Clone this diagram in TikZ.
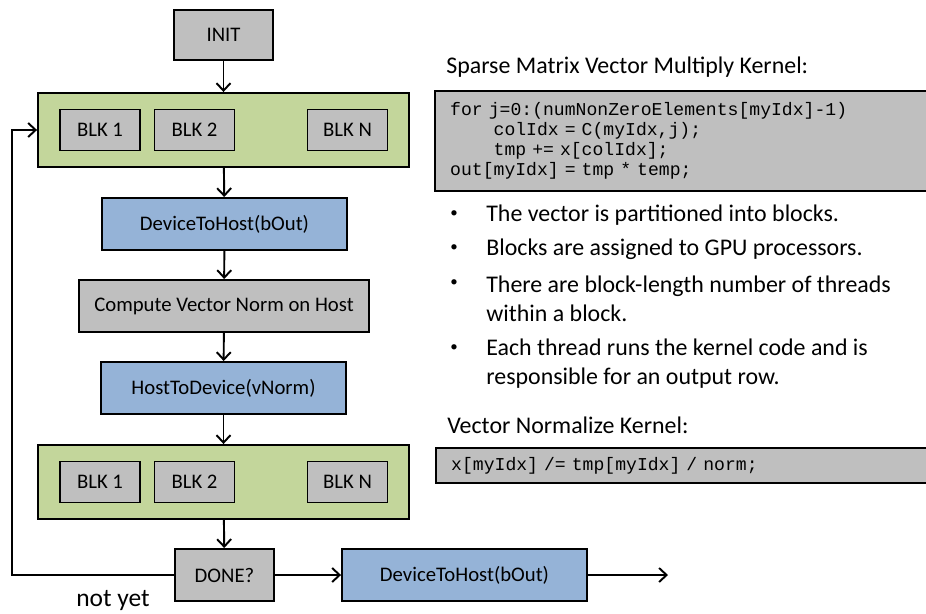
\documentclass[tikz,border=0pt]{standalone}
\usepackage{fontspec}
\setmainfont{Carlito}
\newfontfamily\codefont{Liberation Mono}
\usetikzlibrary{arrows.meta, positioning}

\definecolor{boxgray}{HTML}{BFBFBF}
\definecolor{blkgreen}{HTML}{C3D69B}
\definecolor{xferblue}{HTML}{95B3D7}

\begin{document}
\begin{tikzpicture}[
    x=0.02cm, y=-0.02cm,
    >={Straight Barb[length=1.5mm,width=2.8mm]},
    box/.style={rectangle, draw=black, line width=1.1pt, minimum height=1.04cm, align=center, font=\fontsize{11.8}{14}\selectfont},
    grid/.style={box, fill=blkgreen, minimum width=7.42cm, minimum height=1.48cm},
    blk/.style={box, fill=boxgray, minimum width=1.6cm, minimum height=0.82cm},
    xfer/.style={box, fill=xferblue, minimum width=4.9cm},
    codebox/.style={rectangle, draw=black, line width=1.4pt, fill=boxgray, anchor=west, align=left, inner xsep=0.2cm, minimum width=10.5cm, text width=9.9cm, font=\codefont\fontsize{10.3}{11.5}\selectfont},
    heading/.style={anchor=west, inner sep=0pt, font=\fontsize{13.6}{16}\selectfont},
    item/.style={anchor=west, inner sep=0pt, align=left, font=\fontsize{13.6}{16.4}\selectfont},
    dot/.style={inner sep=0pt, font=\fontsize{8.5}{10}\selectfont},
    link/.style={->, line width=1.1pt}
]
    \useasboundingbox (0,0) rectangle (926,613);

    % Host / device flow
    \node[box, fill=boxgray, minimum width=1.98cm, minimum height=1cm] (init) at (223.5,35) {INIT};
    \node[grid] (grid1) at (223.5,130) {};
    \node[blk] (blk11) at (100,130) {BLK 1};
    \node[blk] (blk12) at (194.5,130) {BLK 2};
    \node[blk] (blk1n) at (347.5,130) {BLK N};
    \node[xfer] (d2h) at (224.5,224) {DeviceToHost(bOut)};
    \node[box, fill=boxgray, minimum width=5.8cm] (norm) at (224,306) {Compute Vector Norm on Host};
    \node[xfer] (h2d) at (223.5,388) {HostToDevice(vNorm)};
    \node[grid] (grid2) at (223.5,482) {};
    \node[blk] (blk21) at (100,482) {BLK 1};
    \node[blk] (blk22) at (194.5,482) {BLK 2};
    \node[blk] (blk2n) at (347.5,482) {BLK N};
    \node[box, fill=boxgray, minimum width=1.98cm] (done) at (224.5,575) {DONE?};
    \node[xfer] (result) at (464.5,575) {DeviceToHost(bOut)};
    \node[font=\fontsize{14.5}{16}\selectfont] (notyet) at (113,600) {not yet};

    % Arrows
    \draw[link] (init) -- (grid1);
    \draw[link] (grid1) -- (d2h);
    \draw[link] (d2h) -- (norm);
    \draw[link] (norm) -- (h2d);
    \draw[link] (h2d) -- (grid2);
    \draw[link] (grid2) -- (done);
    \draw[link] (done) -- (result);
    \coordinate (out) at (668,575);
    \draw[link] (result) -- (out);
    \coordinate (loop) at (12,575);
    \draw[link] (done) -- (loop) |- (grid1);

    % Kernel notes
    \node[heading] (spmv) at (446,67) {Sparse Matrix Vector Multiply Kernel:};
    \node[codebox, minimum height=2cm] (spmvcode) at (434,141) {for j=0:(numNonZeroElements[myIdx]-1)\\
        \phantom{xxxx}colIdx = C(myIdx,j);\\
        \phantom{xxxx}tmp += x[colIdx];\\
        out[myIdx] = tmp * temp;};
    \node[dot] (dot1) at (454,214) {\textbullet};
    \node[item] (note1) at (486,215) {The vector is partitioned into blocks.};
    \node[dot] (dot2) at (454,248) {\textbullet};
    \node[item] (note2) at (486,249) {Blocks are assigned to GPU processors.};
    \node[dot] (dot3) at (454,283) {\textbullet};
    \node[item] (note3) at (486,298.5) {There are block-length number of threads\\within a block.};
    \node[dot] (dot4) at (454,348) {\textbullet};
    \node[item] (note4) at (486,363.5) {Each thread runs the kernel code and is\\responsible for an output row.};
    \node[heading] (normk) at (447,425) {Vector Normalize Kernel:};
    \node[codebox, minimum height=0.7cm] (normcode) at (435,465.5) {x[myIdx] /= tmp[myIdx] / norm;};
\end{tikzpicture}
\end{document}
